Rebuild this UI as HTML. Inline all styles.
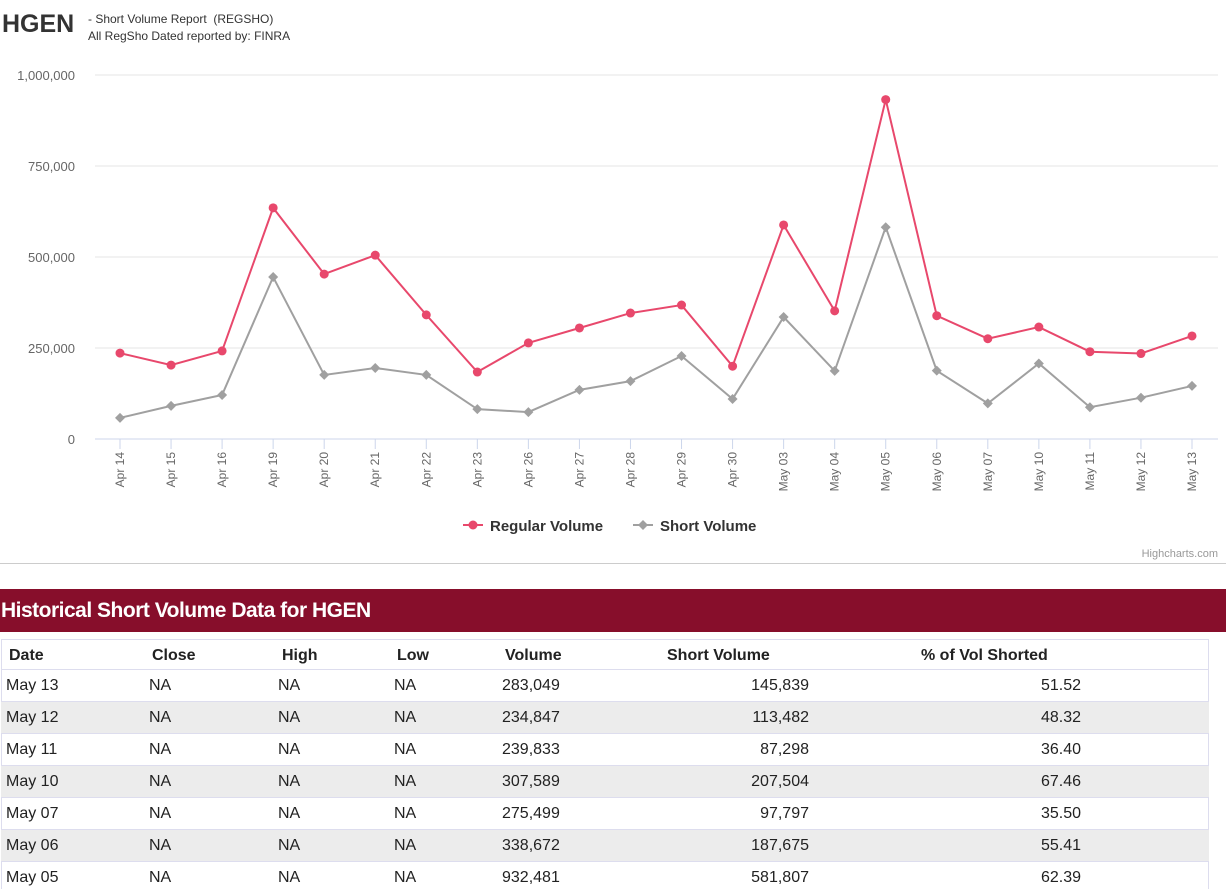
<!DOCTYPE html>
<html><head><meta charset="utf-8"><style>
body{margin:0;width:1226px;height:881px;overflow:hidden;background:#fff;font-family:"Liberation Sans",sans-serif;position:relative}
.abs{position:absolute}
.row{position:absolute;left:1px;width:1208px;height:32px;border-top:1px solid #dde;box-sizing:border-box;font-size:16px;color:#222}
.row span{position:absolute;top:0;line-height:31px;white-space:nowrap}
.g{background:#ececec}
.hd span{font-weight:bold}
</style></head><body>
<div class="abs" style="left:2px;top:10px;font-size:25px;font-weight:bold;color:#333">HGEN</div>
<div class="abs" style="left:88px;top:11px;font-size:12px;color:#333;line-height:17px">- Short Volume Report &nbsp;(REGSHO)<br>All RegSho Dated reported by: FINRA</div>
<svg id="chart" class="abs" style="left:0;top:0" width="1226" height="565"></svg>
<div class="abs" style="left:0;top:563px;width:1226px;height:1px;background:#ccc"></div>
<div class="abs" style="left:0;top:589px;width:1226px;height:43px;background:#870e2b;color:#fff;font-size:21px;font-weight:bold;line-height:43px;padding-left:1px;letter-spacing:-0.5px">Historical Short Volume Data for HGEN</div>
<div id="tbl" class="abs" style="left:0;top:0;width:1226px;height:881px">
<div class="abs" style="left:1px;top:639px;width:1208px;height:250px;border-left:1px solid #dde;border-right:1px solid #dde;box-sizing:border-box"></div>
<div class="row hd" style="top:639px;height:30px"><span style="left:8px">Date</span><span style="left:151px">Close</span><span style="left:281px">High</span><span style="left:396px">Low</span><span style="left:504px">Volume</span><span style="left:666px">Short Volume</span><span style="left:920px">% of Vol Shorted</span></div>
</div>
<script>
const categories=["Apr 14","Apr 15","Apr 16","Apr 19","Apr 20","Apr 21","Apr 22","Apr 23","Apr 26","Apr 27","Apr 28","Apr 29","Apr 30","May 03","May 04","May 05","May 06","May 07","May 10","May 11","May 12","May 13"];
const regularVolume=[236000,203000,242000,635000,453000,505000,341000,184000,264000,305000,346000,368000,200000,588000,352000,932481,338672,275499,307589,239833,234847,283049];
const shortVolume=[58000,91000,121000,445000,176000,195000,176000,82000,74000,135000,159000,228000,110000,335000,187000,581807,187675,97797,207504,87298,113482,145839];
const yTicks=[0,250000,500000,750000,1000000];
const yTickLabels=["0","250,000","500,000","750,000","1,000,000"];
const NS="http://www.w3.org/2000/svg";
const svg=document.getElementById('chart');
const x=i=>120+i*(1192-120)/(categories.length-1);
const y=v=>439-v*(439-75)/1000000;
function el(t,a,p){const e=document.createElementNS(NS,t);for(const k in a)e.setAttribute(k,a[k]);(p||svg).appendChild(e);return e;}
yTicks.forEach((t,i)=>{
 const l=el('line',{x1:95,x2:1218,y1:y(t),y2:y(t),stroke:i?'#e6e6e6':'#ccd6eb','stroke-width':1});
 
 
 const tx=el('text',{x:75,y:y(t)+5,'text-anchor':'end','font-size':13,fill:'#666','font-family':'Liberation Sans'});
 tx.textContent=yTickLabels[i];
 
 
});
categories.forEach((c,i)=>{
 el('line',{x1:x(i),x2:x(i),y1:439,y2:449,stroke:'#ccd6eb'});
 const tx=el('text',{transform:`translate(${x(i)+4},452) rotate(-90)`,'text-anchor':'end','font-size':12,fill:'#666','font-family':'Liberation Sans'});
 tx.textContent=c;
 
 
});
function series(vals,color,diamond,name){
 const p=el('polyline',{points:vals.map((v,i)=>x(i)+','+y(v)).join(' '),fill:'none',stroke:color,'stroke-width':2});
 
 
 vals.forEach((v,i)=>{
  let m;
  if(diamond){const cx=x(i),cy=y(v);m=el('polygon',{points:`${cx},${cy-5} ${cx+5},${cy} ${cx},${cy+5} ${cx-5},${cy}`,fill:color});}
  else m=el('circle',{cx:x(i),cy:y(v),r:4.5,fill:color});
  
  
 });
}
series(shortVolume,'#a0a0a0',true,'short-volume');
series(regularVolume,'#e8486c',false,'regular-volume');
const lg=el('g',{});


el('line',{x1:463,x2:483,y1:525,y2:525,stroke:'#e8486c','stroke-width':2},lg);
el('circle',{cx:473,cy:525,r:4.5,fill:'#e8486c'},lg);
let t1=el('text',{x:490,y:531,'font-size':15,'font-weight':'bold',fill:'#333','font-family':'Liberation Sans'},lg);t1.textContent='Regular Volume';


el('line',{x1:633,x2:653,y1:525,y2:525,stroke:'#a0a0a0','stroke-width':2},lg);
el('polygon',{points:'643,520 648,525 643,530 638,525',fill:'#a0a0a0'},lg);
let t2=el('text',{x:660,y:531,'font-size':15,'font-weight':'bold',fill:'#333','font-family':'Liberation Sans'},lg);t2.textContent='Short Volume';


let cr=el('text',{x:1218,y:557,'text-anchor':'end','font-size':11,fill:'#999','font-family':'Liberation Sans'});cr.textContent='Highcharts.com';


const rows=[["May 13","283,049","145,839","51.52"],["May 12","234,847","113,482","48.32"],["May 11","239,833","87,298","36.40"],["May 10","307,589","207,504","67.46"],["May 07","275,499","97,797","35.50"],["May 06","338,672","187,675","55.41"],["May 05","932,481","581,807","62.39"]];
const tb=document.getElementById('tbl');
rows.forEach((r,i)=>{
 const d=document.createElement('div');
 d.className='row'+(i%2?' g':'');
 d.style.top=(669+i*32)+'px';
 
 
 d.innerHTML=`<span style="left:5px">${r[0]}</span><span style="left:148px">NA</span><span style="left:277px">NA</span><span style="left:393px">NA</span><span style="left:501px">${r[1]}</span><span style="right:400px">${r[2]}</span><span style="right:128px">${r[3]}</span>`;
 tb.appendChild(d);
});
</script>
</body></html>
